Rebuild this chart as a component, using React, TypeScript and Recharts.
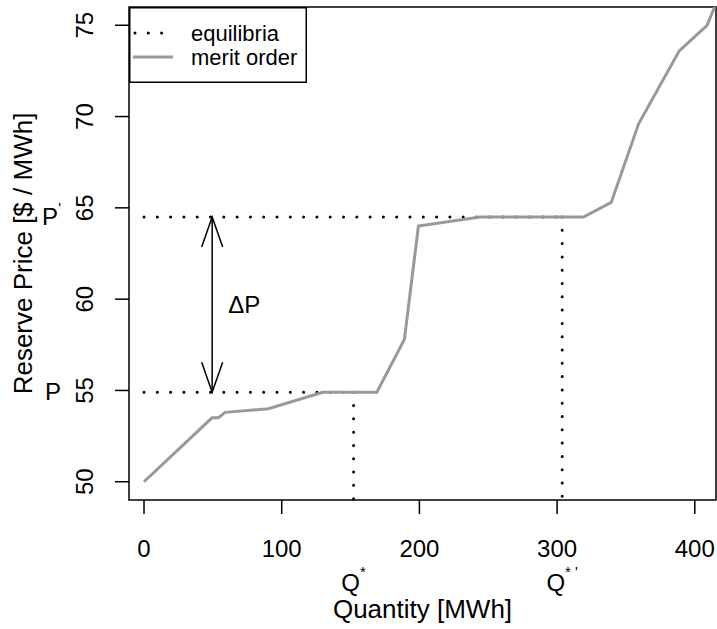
import { ComposedChart, Line, XAxis, YAxis, ReferenceLine, ReferenceArea, Legend } from "recharts";

// merit order curve
const meritQuantity = [0, 49.4, 54, 58.9, 90.3, 129.8, 169.1, 189.1, 199.3, 244.1, 319.2, 339.3, 359.2, 388.7, 408.9, 414.4];
const meritPrice = [50, 53.5, 53.5, 53.8, 54.0, 54.9, 54.9, 57.8, 64.0, 64.5, 64.5, 65.3, 69.6, 73.6, 75.0, 76.0];

const xTicks = [0, 100, 200, 300, 400];
const yTicks = [50, 55, 60, 65, 70, 75];

// equilibria
const priceP = 54.9;
const pricePPrime = 64.5;
const qStar = 152.2;
const qStarPrime = 303.7;
const arrowQuantity = 49.5;

const xDomain = [-10.9, 415.4];
const yDomain = [49, 76];

const FONT = "'Liberation Sans', Arial, Helvetica, sans-serif";
const GRAY = "#999999";
const DOTS = "0 13.3";

const chartData = meritQuantity.map((q, i) => ({ q, p: meritPrice[i] }));

const XTick = ({ x, y, payload }: any) => (
  <text x={x} y={y + 41} textAnchor="middle" fontSize={24} fontFamily={FONT} fill="#000">
    {payload.value}
  </text>
);

const YTick = ({ x, y, payload }: any) => (
  <text
    x={x - 20}
    y={y}
    transform={`rotate(-90, ${x - 20}, ${y})`}
    textAnchor="middle"
    fontSize={24}
    fontFamily={FONT}
    fill="#000"
  >
    {payload.value}
  </text>
);

const XTitle = (props: any) => {
  const vb = props.viewBox ?? { x: 129, y: 500, width: 587, height: 129 };
  return (
    <text x={vb.x + vb.width / 2} y={vb.y + 118} textAnchor="middle" fontSize={26} fontFamily={FONT} fill="#000">
      Quantity [MWh]
    </text>
  );
};

const YTitle = (props: any) => {
  const vb = props.viewBox ?? { x: 0, y: 7, width: 129, height: 493 };
  const cx = vb.x + 32;
  const cy = vb.y + vb.height / 2;
  return (
    <text x={cx} y={cy} transform={`rotate(-90, ${cx}, ${cy})`} textAnchor="middle" fontSize={26} fontFamily={FONT} fill="#000">
      Reserve Price [$ / MWh]
    </text>
  );
};

// horizontal dotted line with the price label on the left margin
const PriceLine = (sup: string) => (props: any) => {
  const { x1, y1, x2, y2 } = props;
  return (
    <g>
      <line x1={x1} y1={y1} x2={x2} y2={y2} stroke="#000" strokeWidth={3} strokeLinecap="round" strokeDasharray={DOTS} />
      <text x={61} y={y1 + 8} textAnchor="end" fontSize={24} fontFamily={FONT} fill="#000">
        P
        {sup && (
          <tspan fontSize={15} dy={-12}>
            {sup}
          </tspan>
        )}
      </text>
    </g>
  );
};

// vertical dotted line with the quantity label below the axis
const QuantityLine = (sup: string) => (props: any) => {
  const { x1, y1, x2, y2 } = props;
  const bottom = Math.max(y1, y2);
  return (
    <g>
      <line x1={x1} y1={Math.min(y1, y2)} x2={x2} y2={bottom} stroke="#000" strokeWidth={3} strokeLinecap="round" strokeDasharray={DOTS} />
      <text x={x1} y={bottom + 91} textAnchor="middle" fontSize={24} fontFamily={FONT} fill="#000">
        Q
        <tspan fontSize={15} dy={-14}>
          {sup}
        </tspan>
      </text>
    </g>
  );
};

const DeltaArrow = (props: any) => {
  const { x1, y1, x2, y2 } = props;
  const top = Math.min(y1, y2);
  const bot = Math.max(y1, y2);
  return (
    <g stroke="#000" strokeWidth={1.5} fill="none">
      <line x1={x1} y1={top} x2={x2} y2={bot} />
      <polyline points={`${x1 - 10.5},${top + 30} ${x1},${top} ${x1 + 10.5},${top + 30}`} />
      <polyline points={`${x1 - 10.5},${bot - 30} ${x1},${bot} ${x1 + 10.5},${bot - 30}`} />
      <text x={x1 + 16} y={(top + bot) / 2 + 8} fontSize={24} fontFamily={FONT} fill="#000" stroke="none">
        ΔP
      </text>
    </g>
  );
};

const LegendBox = () => (
  <svg width={178} height={76} style={{ display: "block" }}>
    <rect x={0.75} y={0.75} width={176.5} height={74.5} fill="#fff" stroke="#000" strokeWidth={1.5} />
    <line x1={6} x2={33} y1={26} y2={26} stroke="#000" strokeWidth={3} strokeLinecap="round" strokeDasharray={DOTS} />
    <text x={62} y={34} fontSize={22} fontFamily={FONT} fill="#000">
      equilibria
    </text>
    <line x1={4} x2={44} y1={50} y2={50} stroke={GRAY} strokeWidth={3} />
    <text x={62} y={58} fontSize={22} fontFamily={FONT} fill="#000">
      merit order
    </text>
  </svg>
);

export default function App() {
  return (
    <div style={{ position: "absolute", left: 0, top: 0, background: "#fff", fontFamily: FONT }}>
      <ComposedChart width={717} height={629} data={chartData} margin={{ top: 7, right: 1, bottom: 0, left: 0 }}>
        <XAxis
          dataKey="q"
          type="number"
          domain={xDomain}
          ticks={xTicks}
          allowDataOverflow
          height={129}
          tickSize={14}
          axisLine={false}
          tickLine={{ stroke: "#000", strokeWidth: 1.5 }}
          tick={<XTick />}
          label={XTitle}
        />
        <YAxis
          type="number"
          domain={yDomain}
          ticks={yTicks}
          allowDataOverflow
          width={129}
          tickSize={14}
          axisLine={false}
          tickLine={{ stroke: "#000", strokeWidth: 1.5 }}
          tick={<YTick />}
          label={YTitle}
        />
        <ReferenceArea x1={xDomain[0]} x2={xDomain[1]} y1={yDomain[0]} y2={yDomain[1]} fill="none" stroke="#000" strokeWidth={1.5} ifOverflow="visible" />
        <ReferenceLine segment={[{ x: 0, y: priceP }, { x: qStar, y: priceP }]} shape={PriceLine("")} ifOverflow="visible" />
        <ReferenceLine segment={[{ x: 0, y: pricePPrime }, { x: qStarPrime, y: pricePPrime }]} shape={PriceLine("'")} ifOverflow="visible" />
        <ReferenceLine segment={[{ x: qStar, y: priceP }, { x: qStar, y: yDomain[0] }]} shape={QuantityLine("*")} ifOverflow="visible" />
        <ReferenceLine segment={[{ x: qStarPrime, y: pricePPrime }, { x: qStarPrime, y: yDomain[0] }]} shape={QuantityLine("* '")} ifOverflow="visible" />
        <ReferenceLine segment={[{ x: arrowQuantity, y: priceP }, { x: arrowQuantity, y: pricePPrime }]} shape={DeltaArrow} ifOverflow="visible" />
        <Line dataKey="p" type="linear" stroke={GRAY} strokeWidth={3} dot={false} activeDot={false} isAnimationActive={false} />
        <Legend
          layout="vertical"
          align="center"
          verticalAlign="middle"
          wrapperStyle={{ left: 129, top: 7, width: 178, height: 76 }}
          content={LegendBox}
        />
      </ComposedChart>
    </div>
  );
}
